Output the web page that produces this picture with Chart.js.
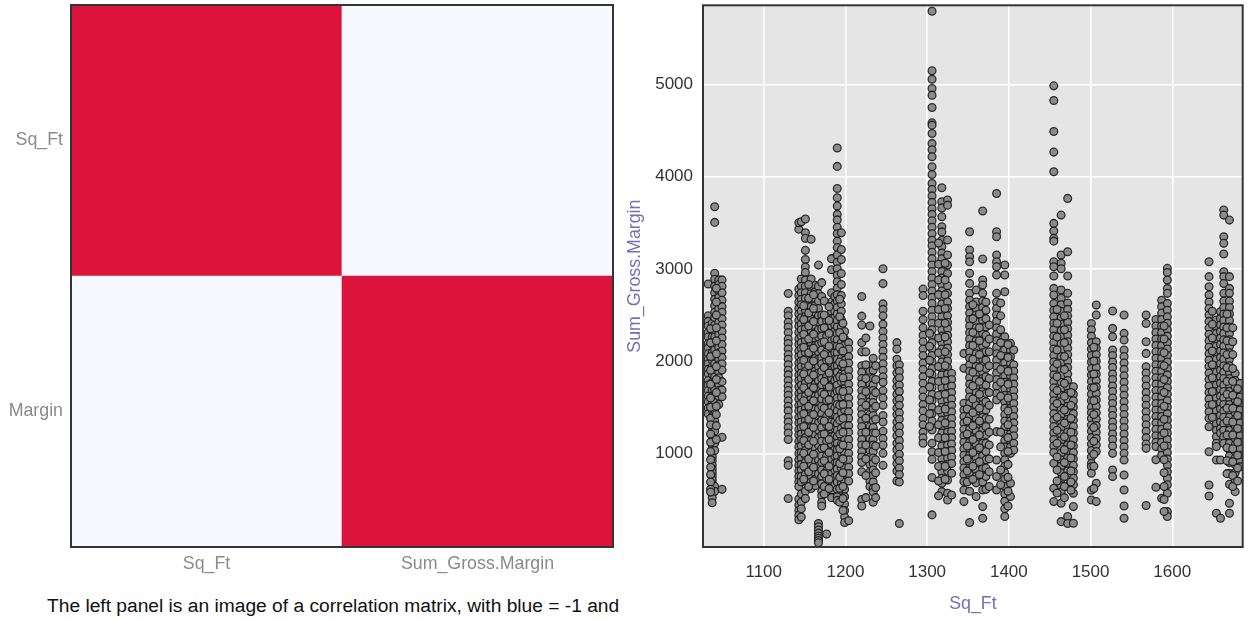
<!DOCTYPE html>
<html>
<head>
<meta charset="utf-8">
<title>Sq_Ft vs Sum_Gross.Margin</title>
<script src="https://cdn.jsdelivr.net/npm/chart.js@4"></script>
<style>
    html, body { margin: 0; padding: 0; background: #fff; overflow: hidden; }
    #page { position: relative; width: 1248px; height: 619px; }
    #corrWrap { position: absolute; left: 0; top: 0; width: 620px; height: 585px; }
    #scatterWrap { position: absolute; left: 620px; top: 0; width: 628px; height: 619px; }
    #caption { position: absolute; left: 47px; top: 595px; font: 19.2px "Liberation Sans", Arial, sans-serif; color: #111; white-space: nowrap; }
</style>
</head>
<body>
<div id="page">
    <div id="corrWrap"><canvas id="corrChart"></canvas></div>
    <div id="scatterWrap"><canvas id="scatterChart"></canvas></div>
    <div id="caption">The left panel is an image of a correlation matrix, with blue = -1 and</div>
</div>
<script>
// ====== Data ======
const corrColumns = ['Sq_Ft', 'Sum_Gross.Margin'];
const corrRows = ['Margin', 'Sq_Ft'];          // bottom to top, the long name is cut off in the picture
const corrMarginRow = [0.02, 1];
const corrSqFtRow = [1, 0.02];

const xTicks = [1100, 1200, 1300, 1400, 1500, 1600];
const yTicks = [1000, 2000, 3000, 4000, 5000];

// Sq_Ft values that have sales, one list of Sum_Gross.Margin per value
const sqFtValues = [1032,1037,1040,1045,1049,1130,1143,1146,1151,1158,1163,1167,1171,1177,1183,1187,1190,1195,1199,1204,
    1220,1230,1234,1246,1263,1266,1295,1306,1318,1325,1330,1345,1352,1360,1368,1372,1385,1395,1402,1406,
    1455,1464,1472,1479,1501,1507,1527,1541,1568,1580,1587,1594,1645,1654,1659,1663,1670,1677,1683,
    // columns that only show inside the dense bands
    1035,1042,1149,1155,1161,1174,1180,1193,1197,1225,1237,1303,1314,1322,1349,1356,1364,1376,1390,1399,1459,1468,1476,1504,1590,1649,1667,1674,1680];

const marginValues = [
    [2835,2490,2430,2380,2310,2260,2190,2140,2080,2020,1970,1910,1860,1790,1740,1680,1620,1560,1490,1430],
    [2410,2330,2260,2180,2090,2010,1940,1860,1770,1690,1620,1540,1470,1400,1340,1290,1240,1190,1140,1090,1050,1010,960,920,870,830,790,750,710,670,640,600,560,520,465],
    [3673,3503,2951,2886,2810,2740,2670,2600,2530,2470,2390,2320,2260,2190,2120,2050,1970,1900,1830,1770,1690,1620,1550,1470,1350,1240,1110,1030,640,590],
    [2880,2830,2760,2690,2630,2570,2490,2420,2350,2290,2210,2150,2090,2020,1960,1880,1820,1750,1680,1620,1530],
    [2880,2810,2740,2660,2590,2530,2460,2390,2320,2250,2180,2110,2040,1970,1903,1777,1686,1614,1174,610],
    [2733,2540,2490,2420,2370,2310,2240,2190,2130,2070,2020,1960,1900,1850,1790,1730,1680,1630,1570,1510,1460,1390,1340,1280,1220,1150,920,870,510],
    [3430,3500,2780,2710,2640,2570,2510,2440,2380,2310,2240,2180,2110,2050,1980,1920,1850,1790,1720,1650,1590,1520,1460,1390,1330,1260,1200,1130,1070,1000,930,870,810,750,690,640,505,440,380,330,280],
    [3510,2890,2810,2740,2670,2610,2540,2470,2400,2340,2270,2200,2140,2070,2000,1940,1870,1810,1740,1670,1610,1540,1470,1410,1340,1280,1210,1150,1080,1010,950,880,820,750,690,560,470,400,310],
    [3540,3390,3330,3200,3100,3020,2960,2880,2810,2740,2680,2610,2550,2480,2410,2350,2280,2220,2150,2090,2020,1950,1890,1820,1760,1690,1620,1560,1490,1430,1360,1300,1230,1170,1100,1030,970,900,840,770,700,590,510],
    [3320,2890,2800,2730,2660,2590,2530,2460,2400,2330,2260,2200,2130,2070,2000,1930,1870,1800,1740,1670,1600,1540,1470,1410,1340,1280,1210,1140,1080,1010,950,880,820,750,690,620],
    [2820,2750,2680,2600,2530,2440,2370,2310,2240,2170,2100,2030,1960,1890,1820,1750,1690,1620,1550,1480,1410,1340,1270,1200,1130,1060,990,920,850,790,720,650],
    [3040,2810,2730,2650,2570,2490,2420,2340,2260,2180,2100,2020,1940,1870,1790,1710,1630,1560,1480,1400,1330,1250,1170,1090,1010,930,860,780,240,205,170,135,105,80,55,30],
    [2850,2700,2500,2430,2350,2270,2200,2120,2040,1970,1890,1810,1740,1660,1590,1510,1430,1360,1280,1200,1130,1050,970,900,820,750,670,590,540,470,430],
    [2440,2360,2270,2180,2100,2010,1920,1830,1740,1660,1570,1480,1400,1310,1220,1130,1050,970,890,810,730,620,125],
    [3110,2990,2740,2640,2540,2460,2380,2300,2220,2140,2060,1980,1900,1820,1740,1660,1580,1500,1420,1340,1260,1180,1100,1020,940,860,780,700,600,520],
    [2700,2620,2540,2470,2390,2320,2240,2170,2090,2020,1940,1870,1790,1720,1640,1570,1490,1420,1340,1270,1190,1120,1040,970,890,820,740,660],
    [4310,4110,3870,3770,3680,3590,3530,3450,3380,3300,3230,3150,3070,3000,2930,2860,2790,2720,2650,2580,2510,2440,2370,2300,2230,2160,2090,2020,1950,1880,1810,1740,1670,1600,1530,1460,1390,1320,1250,1180,1110,1040,970,900,830,760,690,610,530,490],
    [3390,3210,3100,2950,2830,2710,2620,2540,2450,2370,2290,2200,2120,2030,1950,1860,1780,1690,1610,1520,1440,1350,1270,1180,1100,1010,930,840,760,680,600],
    [2320,2240,2170,2090,2010,1930,1860,1780,1700,1620,1540,1470,1390,1310,1230,1160,1080,1000,920,840,770,690,610,530,450,380,310,250],
    [2200,2130,2050,1980,1900,1830,1750,1680,1600,1530,1450,1380,1300,1230,1150,1080,1000,930,850,780,700,270],
    [2700,2487,2390,2200,2100,1950,1880,1810,1750,1680,1610,1550,1480,1420,1350,1290,1220,1150,1090,1020,960,900,800,500,430],
    [2380,1950,1890,1820,1750,1690,1620,1560,1490,1420,1360,1290,1230,1160,1090,1030,960,880,800,700,640],
    [2030,1900,1810,1740,1680,1610,1550,1480,1410,1350,1280,1220,1150,1090,1020,950,890,820,760,690,620,580,470],
    [3000,2840,2620,2560,2490,2400,2320,2250,2180,2110,2040,1970,1900,1830,1770,1680,1600,1520,1410,1340,1240,1160,1090,1000,870],
    [2200,2130,2020,1950,1870,1790,1720,1640,1570,1490,1420,1340,1270,1190,1110,1040,960,890,810,700],
    [1960,1890,1820,1740,1670,1590,1520,1440,1370,1290,1220,1140,1070,990,920,840,770,690,240],
    [2780,2710,2540,2450,2360,2280,2210,2130,2060,1980,1910,1830,1760,1680,1610,1530,1460,1380,1310,1230,1170,1110],
    [5792,5146,5055,4954,4882,4749,4582,4557,4467,4359,4290,4214,4106,4023,3925,3860,3790,3720,3650,3590,3520,3450,3380,3310,3250,3180,3110,3040,2970,2900,2830,2760,2690,2625,2550,2480,2410,2340,2270,2200,2130,2060,1990,1920,1850,1780,1710,1640,1570,1500,1430,1350,1253,1109,1018,935,737,333],
    [3879,3727,3660,3564,3456,3400,3310,3240,3170,3110,3040,2970,2900,2830,2760,2690,2620,2550,2480,2410,2340,2270,2200,2130,2060,1990,1920,1850,1780,1710,1640,1570,1500,1430,1360,1290,1220,1150,1080,1010,940,870,800,730,675,585],
    [3745,3690,3312,3149,3041,2950,2817,2734,2640,2570,2490,2420,2350,2280,2210,2140,2070,2000,1930,1860,1790,1720,1650,1580,1510,1440,1370,1300,1230,1160,1090,1020,950,880,810,710,567,495],
    [1867,1800,1730,1660,1590,1520,1450,1380,1310,1240,1170,1100,1030,960,890,784,549],
    [2083,1921,1542,1470,1400,1330,1260,1190,1120,1050,980,910,840,770,694,603,477],
    [3402,3203,3131,3077,2951,2842,2734,2660,2590,2520,2450,2380,2310,2240,2170,2100,2030,1960,1890,1820,1750,1680,1610,1540,1470,1400,1330,1260,1190,1120,1050,980,910,840,770,710,590,250],
    [2770,2640,2570,2500,2430,2360,2290,2220,2150,2080,2010,1940,1870,1800,1730,1660,1590,1520,1450,1380,1310,1240,1170,1100,1030,960,890,820,750,680,531],
    [3626,3106,2879,2824,2734,2650,2580,2510,2440,2370,2300,2230,2160,2090,2020,1950,1880,1810,1740,1670,1600,1530,1460,1390,1320,1250,1180,1110,1040,970,900,830,760,690,603,423,296],
    [2640,2550,2460,2370,2280,2190,2100,2010,1920,1830,1740,1650,1560,1470,1380,1290,1200,1110,1020,930,840,750,610],
    [3817,3402,3348,3149,3077,3023,2933,2734,2640,2570,2500,2430,2360,2290,2220,2150,2080,2010,1940,1870,1800,1730,1650,1578,1235,928,748,603],
    [3041,2933,2752,2264,2190,2120,2050,1980,1910,1840,1770,1700,1630,1560,1490,1420,1350,1280,1210,1140,1070,1000,930,860,790,720,640,560,480,400,315],
    [2192,2120,2050,1980,1910,1840,1770,1700,1630,1560,1490,1420,1350,1280,1210,1140,1070,1000,675,531],
    [2120,1960,1890,1820,1750,1680,1610,1540,1470,1400,1330,1260,1190,1110,1036],
    [4983,4824,4489,4265,4052,3492,3409,3330,3300,3077,3023,2922,2788,2716,2625,2550,2480,2410,2340,2270,2200,2130,2060,1990,1920,1850,1780,1710,1640,1570,1500,1430,1360,1290,1220,1150,1080,1010,892,621,477],
    [3582,3149,3060,3000,2770,2680,2610,2540,2470,2400,2330,2260,2190,2120,2050,1980,1910,1840,1770,1700,1630,1560,1490,1420,1350,1280,1210,1140,1070,1000,930,860,790,720,650,580,459,260],
    [3763,3185,2922,2734,2630,2560,2490,2420,2350,2280,2210,2140,2070,2000,1930,1860,1790,1720,1650,1580,1510,1440,1370,1300,1230,1160,1090,1020,950,880,810,740,639,315,240],
    [1722,1640,1570,1500,1430,1360,1290,1220,1150,1080,1010,940,870,800,730,660,567,423,242],
    [2408,2340,2270,2200,2130,2060,1990,1920,1850,1780,1710,1640,1570,1500,1440,1379,1307,1240,1170,1100,1030,960,890,856,784,600,495],
    [2607,2500,2210,2140,2070,2000,1930,1860,1790,1720,1650,1580,1510,1440,1370,1300,1230,1160,1090,1020,675,477],
    [2542,2354,2264,2120,2060,1990,1930,1860,1800,1730,1670,1600,1540,1470,1410,1340,1280,1210,1150,1080,1000,820,748],
    [2499,2300,2228,2120,2050,1980,1910,1840,1770,1700,1630,1560,1490,1420,1350,1280,1210,1140,1070,1000,928,766,603,430,296],
    [2499,2408,2210,2083,1939,1870,1800,1730,1660,1590,1520,1450,1380,1310,1240,1170,1100,1054,434],
    [2450,2380,2310,2240,2170,2100,2030,1960,1890,1820,1750,1680,1610,1540,1470,1400,1330,1260,1190,1120,1073,930,632],
    [2660,2590,2520,2450,2380,2310,2240,2170,2100,2030,1960,1890,1820,1750,1680,1610,1540,1470,1400,1330,1260,1190,1120,1050,980,513],
    [3005,2960,2879,2788,2734,2625,2550,2480,2410,2340,2270,2200,2130,2060,1990,1920,1850,1780,1710,1640,1570,1500,1430,1360,1290,1220,1150,1080,1010,940,870,800,730,660,567,368,315],
    [3077,2915,2806,2716,2640,2570,2500,2430,2360,2290,2220,2150,2080,2010,1940,1870,1800,1730,1660,1590,1520,1450,1380,1289,1018,657,538],
    [2445,2370,2300,2230,2160,2090,2020,1950,1880,1810,1740,1670,1600,1530,1460,1390,1320,1250,1180,1110,1073,928,351],
    [2535,2460,2390,2320,2250,2180,2110,2040,1970,1900,1830,1760,1690,1620,1550,1480,1410,1340,1270,1220,928,296],
    [3637,3582,3348,3276,3160,2969,2915,2840,2734,2650,2580,2510,2440,2370,2300,2230,2160,2090,2020,1950,1880,1810,1740,1670,1600,1530,1460,1390,1320,1250,1180,1110],
    [3528,2915,2788,2734,2650,2580,2510,2440,2370,2300,2230,2160,2090,2020,1950,1880,1810,1740,1670,1600,1530,1460,1390,1320,1250,1180,1110,1040,970,900,784,665,459,351],
    [1867,1790,1720,1650,1580,1510,1440,1370,1300,1230,1160,1090,1020,950,880,790,712,585],
    [1758,1680,1610,1540,1470,1400,1330,1260,1190,1120,1050,980,910,856],
    // dense bands
    [2350,2200,2050,1900,1750,1600,1500,1380,1310,1210,1120,1020,930,850,770,690,610,580],
    [2790,2640,2500,2360,2220,2080,1940,1800,1660,1510,1420,1300,1150],
    [2600,2450,2290,2150,2010,1860,1710,1570,1430,1290,1140,1000,860,720],
    [2830,2680,2520,2380,2240,2090,1950,1800,1660,1510,1370,1230,1090,940,800,640],
    [2720,2570,2430,2290,2140,2000,1850,1710,1570,1420,1280,1130,990,850,700],
    [2650,2500,2360,2210,2070,1930,1780,1640,1490,1350,1210,1060,920,780,640,560],
    [2590,2440,2300,2160,2010,1870,1720,1580,1440,1290,1150,1010,860,720,620],
    [2670,2480,2310,2150,1990,1830,1680,1520,1360,1210,1050,890,740,620,470],
    [2410,2260,2110,1970,1820,1670,1530,1380,1230,1090,940,790,640,510,380],
    [2250,2100,1960,1810,1670,1520,1380,1230,1090,940,760,520],
    [1950,1800,1660,1510,1370,1220,1080,930,790,630,520],
    [2300,2160,2010,1870,1720,1580,1430,1290],
    [3280,3050,2880,2720,2560,2410,2250,2090,1940,1780,1630,1470,1310,1170,1010,860,700,540],
    [3060,2880,2720,2570,2410,2260,2100,1950,1790,1640,1480,1330,1170,1020,860,720],
    [1480,1350,1210,1080,940,810,690],
    [2610,2460,2310,2170,2020,1880,1730,1590,1440,1300,1150,1010,860,720],
    [2510,2360,2220,2070,1930,1780,1640,1490,1350,1200,1060,910,770],
    [2390,2240,2100,1950,1810,1660,1520,1370,1230,1090,940,800,640],
    [2630,2490,2340,2200,2060,1910,1770,1620,1230,1070,820,660],
    [2180,2040,1890,1750,1600,1460,1310,1170,1020,880,740,590,430],
    [2560,2410,2260,2120,1970,1830,1680,1540,1390,1250,1110,960,820,700,570],
    [2490,2340,2200,2050,1910,1760,1620,1470,1330,1180,1040,900,750,640,520],
    [1660,1520,1380,1230,1090,950,810,690,600],
    [2150,2000,1860,1710,1570,1420,1280,1130,990,860,620],
    [2380,2240,2090,1950,1800,1660,1510,1370,1220,1080,930,790,640,500,370],
    [2540,2400,2250,2110,1960,1820,1670,1530,1390],
    [2510,2360,2220,2070,1930,1780,1640,1490,1350,1200,1060,920,780],
    [2360,2210,2070,1920,1780,1630,1490,1340,1200,1050,910,760,640],
    [1700,1560,1410,1270,1120,980,840,700]
];

const points = [];
sqFtValues.forEach((x, i) => marginValues[i].forEach(y => points.push({ x, y })));

const labelFont = { family: '"Liberation Sans", Arial, sans-serif', size: 17.8 };
const tickFont = { family: '"Liberation Sans", Arial, sans-serif', size: 17 };

function corrColor(v) { return v > 0.5 ? '#DC143C' : '#F8F8FF'; }

// fixed axis sizes so the plot box lands where it should, no extra room for tick labels
function fixAxis(s, size) {
    if (s.isHorizontal()) s.height = size; else s.width = size;
    s.paddingTop = s.paddingBottom = s.paddingLeft = s.paddingRight = 0;
}

// draws the panel background and the dark box round the plot
function plotBox(background, lineColor) {
    return {
        id: 'plotBox',
        beforeDraw(chart) {
            const a = chart.chartArea, c = chart.ctx;
            c.save();
            c.fillStyle = background;
            c.fillRect(a.left, a.top, a.width, a.height);
            c.restore();
        },
        afterDraw(chart) {
            const a = chart.chartArea, c = chart.ctx;
            c.save();
            c.strokeStyle = lineColor;
            c.lineWidth = 2;
            c.strokeRect(a.left, a.top, a.width, a.height);
            c.restore();
        }
    };
}

// ====== Left panel: correlation matrix ======
new Chart(document.getElementById('corrChart'), {
    type: 'bar',
    data: {
        labels: corrColumns,
        datasets: [
            { label: corrRows[0], data: corrMarginRow.map(() => 1), backgroundColor: corrMarginRow.map(corrColor), barPercentage: 1, categoryPercentage: 1 },
            { label: corrRows[1], data: corrSqFtRow.map(() => 1), backgroundColor: corrSqFtRow.map(corrColor), barPercentage: 1, categoryPercentage: 1 }
        ]
    },
    options: {
        responsive: true, maintainAspectRatio: false, animation: false,
        layout: { padding: { top: 5, right: 7 } },
        plugins: { legend: { display: false }, tooltip: { enabled: false } },
        scales: {
            x: {
                stacked: true,
                grid: { display: false, drawTicks: false }, border: { display: false },
                ticks: { color: '#8a8a8a', font: labelFont, padding: 6, maxRotation: 0 },
                afterFit: s => fixAxis(s, 38)
            },
            y: {
                stacked: true, min: 0, max: 2,
                grid: { display: false, drawTicks: false }, border: { display: false },
                afterBuildTicks: s => { s.ticks = [{ value: 0.5 }, { value: 1.5 }]; },
                ticks: { color: '#8a8a8a', font: labelFont, padding: 8, callback: v => corrRows[v < 1 ? 0 : 1] },
                afterFit: s => fixAxis(s, 71)
            }
        }
    },
    plugins: [plotBox('#F8F8FF', '#333')]
});

// ====== Right panel: scatter ======
new Chart(document.getElementById('scatterChart'), {
    type: 'scatter',
    data: {
        datasets: [{
            label: 'Sum_Gross.Margin',
            data: points,
            backgroundColor: '#8b8b8b',
            borderColor: 'rgba(20,20,20,0.85)',
            borderWidth: 1.3,
            pointRadius: 3.9
        }]
    },
    options: {
        responsive: true, maintainAspectRatio: false, animation: false,
        layout: { padding: { top: 5, right: 2 } },
        plugins: { legend: { display: false }, tooltip: { enabled: false } },
        scales: {
            x: {
                min: 1025.7, max: 1686.2,
                afterBuildTicks: s => { s.ticks = xTicks.map(value => ({ value })); },
                grid: { color: '#fff', lineWidth: 1.5, drawTicks: false }, border: { display: false },
                ticks: { color: '#333', font: tickFont, padding: 15, maxRotation: 0, callback: v => String(v) },
                title: { display: true, text: 'Sq_Ft', color: '#7470b5', font: labelFont, padding: { top: 8 } },
                afterFit: s => fixAxis(s, 72)
            },
            y: {
                min: -15, max: 5856,
                afterBuildTicks: s => { s.ticks = yTicks.map(value => ({ value })); },
                grid: { color: '#fff', lineWidth: 1.5, drawTicks: false }, border: { display: false },
                ticks: { color: '#333', font: tickFont, padding: 10, callback: v => String(v) },
                title: { display: true, text: 'Sum_Gross.Margin', color: '#7470b5', font: labelFont, padding: { bottom: 4 } },
                afterFit: s => fixAxis(s, 83)
            }
        }
    },
    plugins: [plotBox('#e5e5e5', '#333')]
});
</script>
</body>
</html>
